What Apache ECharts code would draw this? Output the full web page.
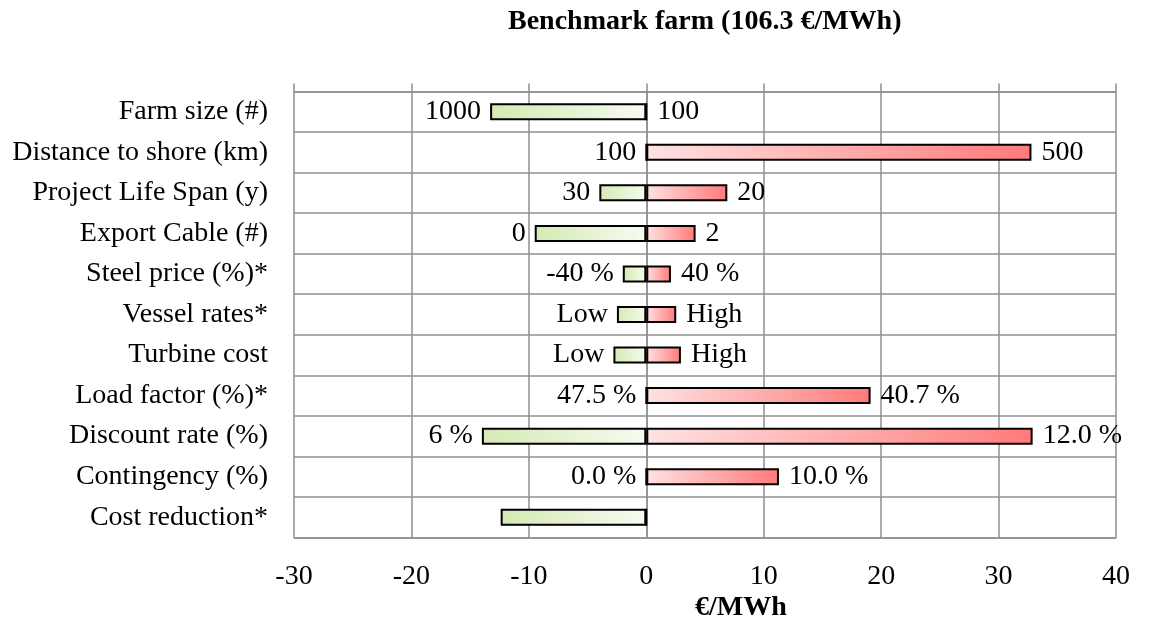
<!DOCTYPE html>
<html>
<head>
<meta charset="utf-8">
<script src="https://cdn.jsdelivr.net/npm/echarts@6/dist/echarts.min.js"></script>
<style>
html,body{margin:0;padding:0;background:#fff;}
#chart{width:1165px;height:625px;}
</style>
</head>
<body>
<div id="chart"></div>
<script>
const categories = ['Farm size (#)', 'Distance to shore (km)', 'Project Life Span (y)', 'Export Cable (#)', 'Steel price (%)*', 'Vessel rates*', 'Turbine cost', 'Load factor (%)*', 'Discount rate (%)', 'Contingency (%)', 'Cost reduction*'];
const lowValues = [-13.3, 0, -4.0, -9.5, -2.0, -2.5, -2.8, 0, -14.0, 0, -12.4];
const highValues = [0, 32.8, 6.9, 4.2, 2.1, 2.55, 2.95, 19.1, 32.9, 11.3, 0];
const lowLabels = ['1000', '100', '30', '0', '-40 %', 'Low', 'Low', '47.5 %', '6 %', '0.0 %', ''];
const highLabels = ['100', '500', '20', '2', '40 %', 'High', 'High', '40.7 %', '12.0 %', '10.0 %', ''];
const xTicks = [-30, -20, -10, 0, 10, 20, 30, 40];

const FONT = 'Liberation Serif';
const gridColor = '#8f8f8f';

const chart = echarts.init(document.getElementById('chart'), null, {renderer: 'canvas'});
const xMin = xTicks[0], xMax = xTicks[xTicks.length - 1], xStep = xTicks[1] - xTicks[0];

chart.setOption({
  animation: false,
  title: [{
    text: 'Benchmark farm (106.3 €/MWh)',
    left: 503, top: 3,
    textStyle: {fontFamily: FONT, fontWeight: 'bold', fontSize: 28, color: '#000'}
  }, {
    text: '€/MWh',
    left: 695, top: 594, padding: 0,
    textStyle: {fontFamily: FONT, fontWeight: 'bold', fontSize: 28, color: '#000'}
  }],
  grid: {left: 294, right: 49, top: 91.5, bottom: 87.5, containLabel: false},
  xAxis: [{
    type: 'value', position: 'bottom',
    min: xMin, max: xMax, interval: xStep,
    axisLine: {show: true, onZero: false, lineStyle: {color: gridColor, width: 1.5}},
    axisTick: {show: false},
    axisLabel: {fontFamily: FONT, fontSize: 28, color: '#000', margin: 25},
    splitLine: {show: true, lineStyle: {color: gridColor, width: 1.5}}
  }, {
    type: 'value', position: 'top',
    min: xMin, max: xMax, interval: xStep,
    axisLine: {show: true, onZero: false, lineStyle: {color: gridColor, width: 1.5}},
    axisTick: {show: true, inside: false, length: 8, lineStyle: {color: gridColor, width: 1.5}},
    axisLabel: {show: false},
    splitLine: {show: false}
  }],
  yAxis: {
    type: 'category', data: categories, inverse: true,
    axisLine: {show: true, lineStyle: {color: gridColor, width: 1.5}},
    axisTick: {show: false},
    axisLabel: {fontFamily: FONT, fontSize: 28, color: '#000', margin: 26},
    splitLine: {show: true, lineStyle: {color: gridColor, width: 1.5}}
  },
  series: [{
    name: 'Low', type: 'bar', xAxisIndex: 0, data: lowValues,
    barWidth: 17, barGap: '-100%',
    itemStyle: {
      color: new echarts.graphic.LinearGradient(0, 0, 1, 0, [
        {offset: 0, color: '#d5e9b3'}, {offset: 1, color: '#f6fbf1'}
      ]),
      borderColor: '#000', borderWidth: 2
    },
    label: {
      show: true, position: 'left', distance: 9,
      fontFamily: FONT, fontSize: 28, color: '#000',
      formatter: p => lowLabels[p.dataIndex]
    }
  }, {
    name: 'High', type: 'bar', xAxisIndex: 0, data: highValues,
    barWidth: 17, barGap: '-100%',
    itemStyle: {
      color: new echarts.graphic.LinearGradient(0, 0, 1, 0, [
        {offset: 0, color: '#ffe2e2'}, {offset: 1, color: '#ff7a7a'}
      ]),
      borderColor: '#000', borderWidth: 2
    },
    label: {
      show: true, position: 'right', distance: 10,
      fontFamily: FONT, fontSize: 28, color: '#000',
      formatter: p => highLabels[p.dataIndex]
    }
  }]
});
</script>
</body>
</html>
